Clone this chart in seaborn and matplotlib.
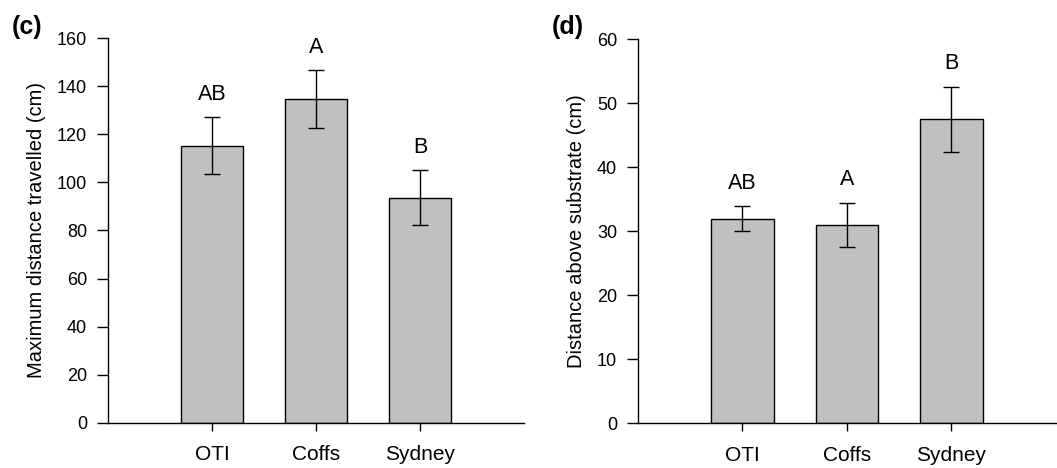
import matplotlib
matplotlib.use('Agg')
import matplotlib.pyplot as plt
import seaborn as sns
import numpy as np

sites = ['OTI', 'Coffs', 'Sydney']

max_dist = [115.3, 134.6, 93.7]
max_dist_se = [11.7, 11.9, 11.5]
max_dist_letters = ['AB', 'A', 'B']

height = [32.0, 31.0, 47.5]
height_se = [1.9, 3.4, 5.1]
height_letters = ['AB', 'A', 'B']

bar_color = '#c1bfc0'


def draw_panel(ax, values, errors, letters, ylabel, ymax, ystep, letter_pad):
    sns.barplot(x=sites, y=values, ax=ax, color=bar_color, width=0.6,
                edgecolor='black', linewidth=1.0, errorbar=None, saturation=1)
    xs = np.arange(len(sites))
    ax.errorbar(xs, values, yerr=errors, fmt='none', ecolor='black',
                elinewidth=1.0, capsize=6, capthick=1.0)
    for x, v, e, lab in zip(xs, values, errors, letters):
        ax.text(x, v + e + letter_pad, lab, ha='center', va='bottom',
                fontsize=15.5, color='black')
    ax.set_xlim(-1.0, 3.0)
    ax.set_ylim(0, ymax)
    ax.set_yticks(np.arange(0, ymax + 1, ystep))
    ax.set_ylabel(ylabel, fontsize=14.5, color='black', labelpad=8)
    ax.set_xlabel('')
    for s in ['top', 'right']:
        ax.spines[s].set_visible(False)
    for s in ['left', 'bottom']:
        ax.spines[s].set_linewidth(1.0)
        ax.spines[s].set_color('black')
    ax.tick_params(axis='y', length=8, width=1.0, labelsize=13, direction='out',
                   pad=7, color='black', labelcolor='black')
    ax.tick_params(axis='x', length=6, width=1.0, labelsize=15, direction='out',
                   pad=10, color='black', labelcolor='black')


sns.set_style('ticks')
plt.rcParams['font.family'] = ['Liberation Sans', 'DejaVu Sans']
plt.rcParams['text.color'] = 'black'

fig = plt.figure(figsize=(10.57, 4.68), dpi=100)
ax1 = fig.add_axes([0.1022, 0.0962, 0.3935, 0.8226])
ax2 = fig.add_axes([0.6036, 0.0955, 0.3954, 0.8205])

draw_panel(ax1, max_dist, max_dist_se, max_dist_letters,
           'Maximum distance travelled (cm)', 160, 20, 5)
draw_panel(ax2, height, height_se, height_letters,
           'Distance above substrate (cm)', 60, 10, 2.0)

fig.text(0.011, 0.942, '(c)', fontsize=18, fontweight='bold', color='black',
         ha='left', va='center')
fig.text(0.522, 0.942, '(d)', fontsize=18, fontweight='bold', color='black',
         ha='left', va='center')

fig.savefig('out.png', dpi=100)
